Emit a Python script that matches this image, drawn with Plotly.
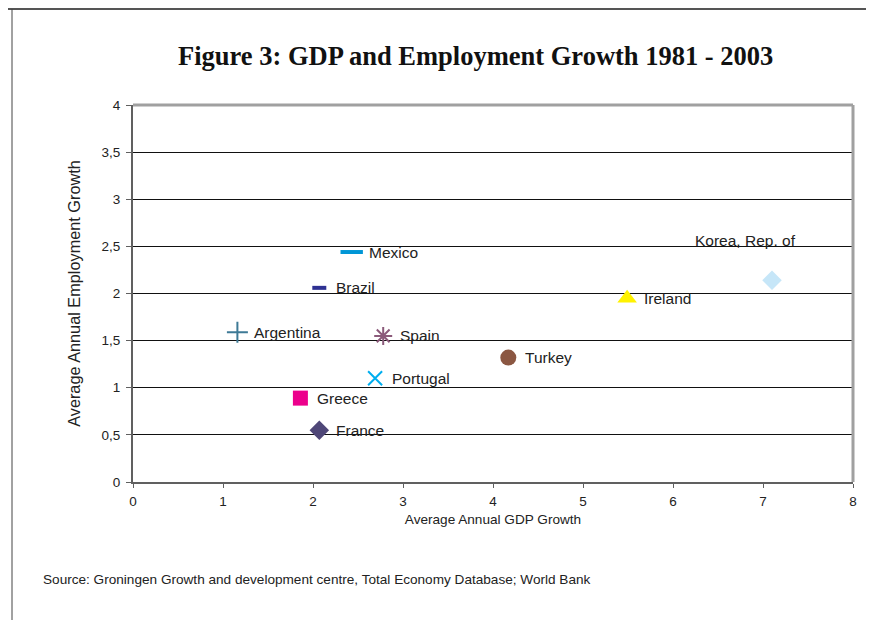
import plotly.graph_objects as go

countries = ["Mexico", "Brazil", "Argentina", "Spain", "Portugal", "Greece",
             "France", "Turkey", "Ireland", "Korea, Rep. of"]
gdp_growth = [2.43, 2.07, 1.16, 2.78, 2.69, 1.86, 2.07, 4.17, 5.49, 7.10]
emp_growth = [2.44, 2.06, 1.59, 1.55, 1.10, 0.89, 0.55, 1.32, 1.95, 2.14]
x_ticks = [0, 1, 2, 3, 4, 5, 6, 7, 8]
y_ticks = [0, 0.5, 1, 1.5, 2, 2.5, 3, 3.5, 4]

styles = {
    "Mexico": dict(symbol="line-ew", size=16, color="#0096D6", open=True, lw=4),
    "Brazil": dict(symbol="line-ew", size=10, color="#2E3192", open=True, lw=4),
    "Argentina": dict(symbol="cross-thin", size=15, color="#3E7A96", open=True, lw=2),
    "Spain": dict(symbol="asterisk", size=15, color="#8B5A7A", open=True, lw=2),
    "Portugal": dict(symbol="x-thin", size=14, color="#00AEEF", open=True, lw=2),
    "Greece": dict(symbol="square", size=15, color="#EC008C", open=False, lw=0),
    "France": dict(symbol="diamond", size=15, color="#4F4778", open=False, lw=0),
    "Turkey": dict(symbol="circle", size=16, color="#8B5742", open=False, lw=0),
    "Ireland": dict(symbol="triangle-up", size=17, color="#FFF200", open=False, lw=0),
    "Korea, Rep. of": dict(symbol="diamond", size=15, color="#C6E6F8", open=False, lw=0),
}

# Page offset (browser body margin) compensation
OFF = 8
W, H = 874 - OFF, 620 - OFF
L, R, T, B = 133 - OFF, 21, 105 - OFF, 138
pw, ph = W - L - R, H - T - B

def px(x):
    return (x - OFF - L) / pw

def py(y):
    return (H - B - (y - OFF)) / ph

LABEL_FONT = dict(family="Liberation Sans, Arial", size=15.5, color="#222")

fig = go.Figure()
annotations = []
for c, x, y in zip(countries, gdp_growth, emp_growth):
    s = styles[c]
    if s["open"]:
        marker = dict(symbol=s["symbol"], size=s["size"], color=s["color"],
                      line=dict(color=s["color"], width=s["lw"]))
    else:
        marker = dict(symbol=s["symbol"], size=s["size"], color=s["color"],
                      line=dict(width=0))
    fig.add_trace(go.Scatter(x=[x], y=[y], mode="markers", marker=marker,
                             name=c, showlegend=False, cliponaxis=False))
    if c == "Korea, Rep. of":
        annotations.append(dict(x=x, y=y, xref="x", yref="y", text=c,
                                showarrow=False, xanchor="center", yanchor="middle",
                                xshift=-27, yshift=40, font=LABEL_FONT))
    else:
        annotations.append(dict(x=x, y=y, xref="x", yref="y", text=c,
                                showarrow=False, xanchor="left", yanchor="middle",
                                xshift=15, yshift=0, font=LABEL_FONT))

annotations.append(dict(x=px(475), y=py(56), xref="paper", yref="paper",
                        text="<b>Figure 3: GDP and Employment Growth 1981 - 2003</b>",
                        showarrow=False, xanchor="center", yanchor="middle",
                        font=dict(family="Liberation Serif, Times New Roman", size=26.5, color="#111")))

annotations.append(dict(x=px(41), y=py(579), xref="paper", yref="paper",
                        text="Source: Groningen Growth and development centre, Total Economy Database; World Bank",
                        showarrow=False, xanchor="left", yanchor="middle",
                        font=dict(family="Liberation Sans, Arial", size=13.6, color="#222")))

shapes = [
    dict(type="line", xref="paper", yref="paper", x0=0, x1=1, y0=1, y1=1,
         line=dict(color="#A0A0A0", width=3), layer="above"),
    dict(type="line", xref="paper", yref="paper", x0=1, x1=1, y0=0, y1=1,
         line=dict(color="#A0A0A0", width=3), layer="above"),
    # page border (top edge drawn at the first visible row)
    dict(type="line", xref="paper", yref="paper", x0=px(5), x1=px(874), y0=py(9), y1=py(9),
         line=dict(color="#555555", width=2), layer="above"),
    dict(type="line", xref="paper", yref="paper", x0=px(12), x1=px(12), y0=py(9), y1=py(620),
         line=dict(color="#444444", width=1), layer="above"),
]

fig.update_layout(
    width=W, height=H,
    margin=dict(l=L, r=R, t=T, b=B),
    paper_bgcolor="white", plot_bgcolor="white",
    separators=", ",
    showlegend=False,
    annotations=annotations,
    shapes=shapes,
    font=dict(family="Liberation Sans, Arial", size=13.5, color="#222"),
)
fig.update_xaxes(
    range=[0, 8], tickvals=x_ticks, showgrid=False, zeroline=False,
    showline=True, linecolor="#606060", linewidth=2,
    ticks="outside", ticklen=4, tickcolor="#606060", tickwidth=1,
    ticklabelstandoff=2,
    tickfont=dict(size=13.5, color="#222"),
    title=dict(text="Average Annual GDP Growth", standoff=6,
               font=dict(size=13.6, color="#222")),
)
fig.update_yaxes(
    range=[0, 4], tickvals=y_ticks, showgrid=True, gridcolor="#111111", gridwidth=1,
    zeroline=False,
    showline=True, linecolor="#606060", linewidth=2,
    ticks="outside", ticklen=5, tickcolor="#606060", tickwidth=1,
    ticklabelstandoff=3,
    tickfont=dict(size=13.5, color="#222"),
    title=dict(text="Average Annual Employment Growth", standoff=17,
               font=dict(size=16.3, color="#222")),
)

fig.write_html("out.html")
